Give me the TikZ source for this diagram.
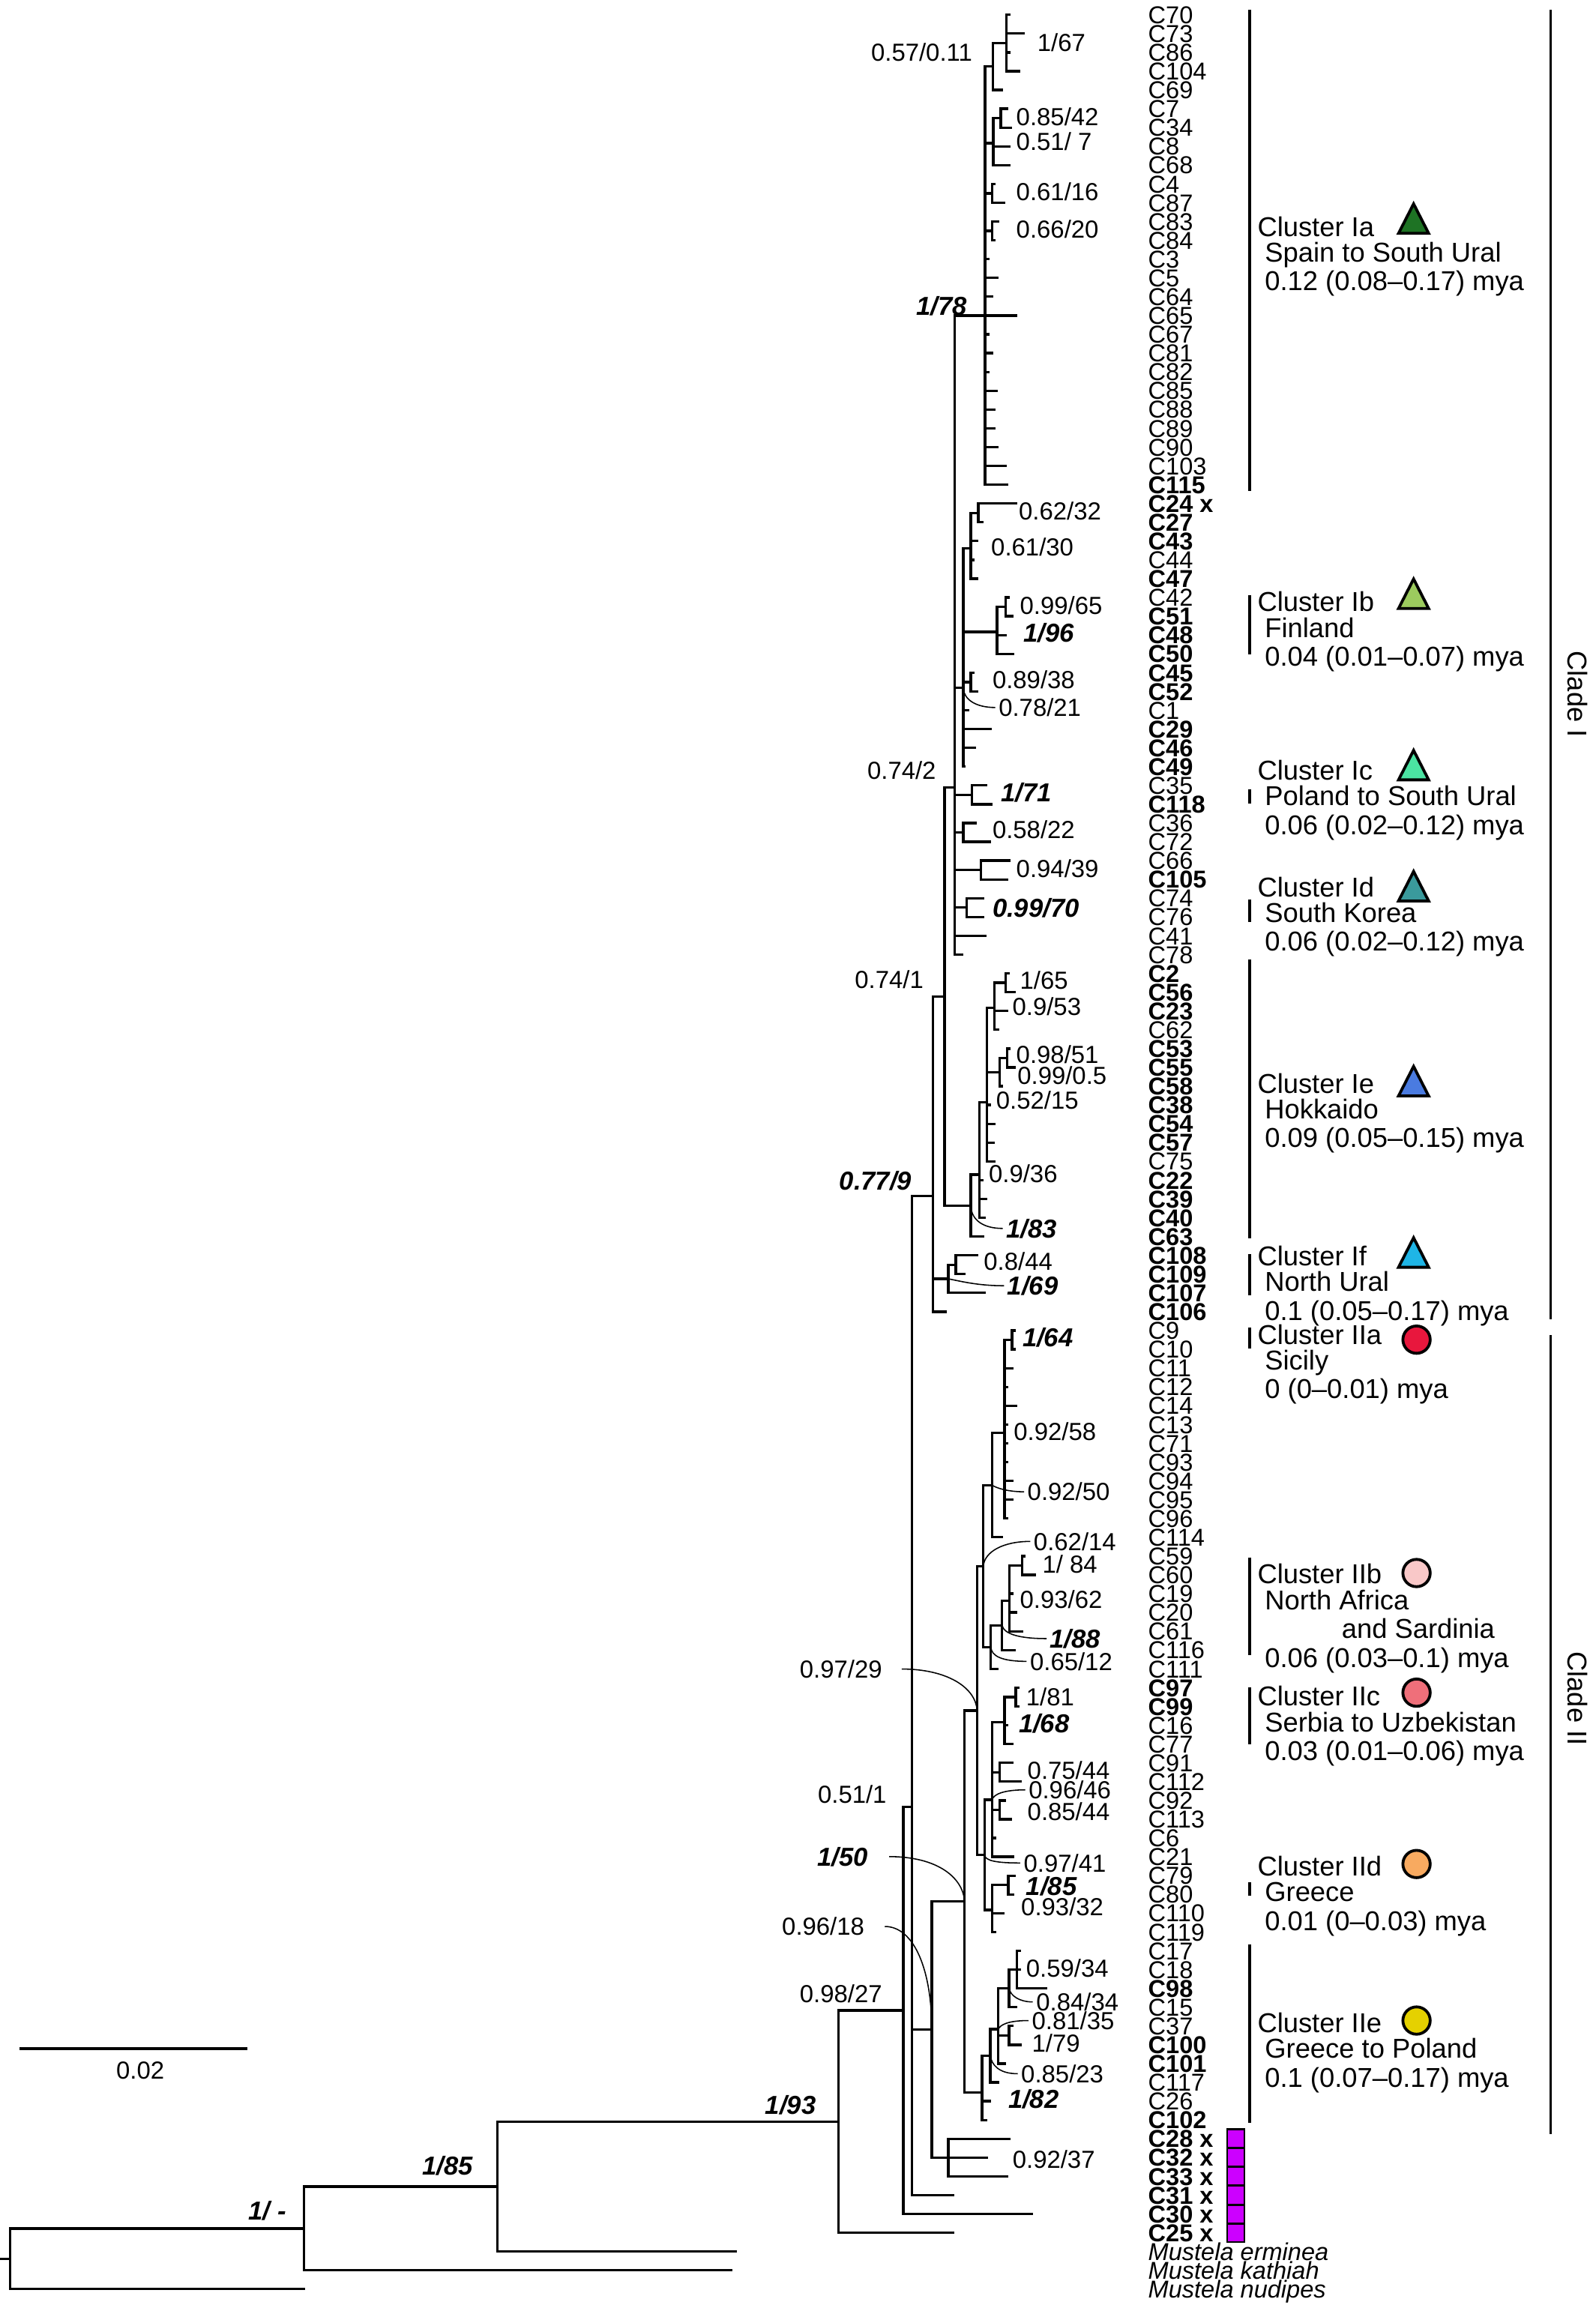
\documentclass[tikz,border=0pt]{standalone}
\usepackage{fontspec}
\setmainfont{Liberation Sans}
\usepackage{tikz}
\definecolor{cIa}{HTML}{1E7324}
\definecolor{cIb}{HTML}{9CCB5E}
\definecolor{cIc}{HTML}{4BE3A2}
\definecolor{cId}{HTML}{3A9A9C}
\definecolor{cIe}{HTML}{4A7BE0}
\definecolor{cIf}{HTML}{1FB5E6}
\definecolor{cIIa}{HTML}{E8173D}
\definecolor{cIIb}{HTML}{F9C8C8}
\definecolor{cIIc}{HTML}{EF6F7A}
\definecolor{cIId}{HTML}{F8AA60}
\definecolor{cIIe}{HTML}{E5D100}
\definecolor{purp}{HTML}{CC00FF}
\newcommand{\tipy}[1]{12.726*(#1)-2.726}
\newcommand{\tipfont}{\fontsize{9.4}{10}\selectfont}
\newcommand{\supfont}{\fontsize{9.5}{10}\selectfont}
\newcommand{\supbfont}{\fontsize{10}{11}\selectfont}
\newcommand{\legfont}{\fontsize{10.5}{12}\selectfont}
\tikzset{
  branch/.style={draw=black, line width=0.95pt, line cap=rect, line join=miter},
  lead/.style={draw=black, line width=0.45pt},
  clbar/.style={draw=black, line width=1pt},
  sym/.style={draw=black, line width=1.1pt, line join=miter},
  sqr/.style={draw=black, fill=purp, line width=0.8pt},
  tiplab/.style={font=\tipfont, anchor=west, inner sep=0pt, text height=6.73pt, text depth=0pt},
  tiplabb/.style={tiplab, font=\tipfont\bfseries},
  tiplabi/.style={tiplab, font=\tipfont\itshape},
  supp/.style={font=\supfont, inner sep=0pt, text height=6.8pt, text depth=0pt},
  suppb/.style={supp, font=\supbfont\bfseries\itshape, text height=7.16pt},
  legtext/.style={font=\legfont, anchor=base west, inner sep=0pt},
}

\begin{document}
\begin{tikzpicture}[x=0.2mm, y=-0.2mm]
  \path[use as bounding box, fill=white] (0,0) rectangle (1080,1560.6);
  % internal nodes: name / x / mean tip index
  \foreach \n/\x/\k in {root/6.7/120.385, nA/205.8/118.77, nB/336.9/116.54, nC/567.6/113.085,
    nD/611.5/107.17, nE/617.5/96.34, nF/631.5/63.83, nH/639.5/53.23, nJ/646.4/42.1,
    nIa/666.9/17, nQ/672.1/3.75, nU/681.4/2.5, nR/672.4/7.833, nV/677.5/6.5, nS/671.6/10.5,
    nT/671.6/12.5, nL/652.1/36.815, nW/657.2/29.375, nZ/662.3/27.5, nX/675.0/33.833,
    nAA/680.9/32.5, nY/657.2/36.5, nM/658.1/42.5, nN/652.1/44.5, nO/664.0/46.5, nP/654.3/48.5,
    nK/657.2/64.36, nAB/663.1/62.71, nAC/668.2/58.85, nAD/673.3/53.83, nAF/680.9/52.5,
    nAE/676.7/57.25, nAG/681.8/56.5, nI/642.0/68.25, nAH/647.1/67.5, nG/630.8/108.19,
    nAJ/642.0/115, nAI/653.0/101.375, nAK/661.5/91.215, nAM/665.7/83.53, nAO/671.6/79.225,
    nAQ/680.1/76.45, nAR/685.1/71.5, nAP/670.8/87.845, nAS/678.4/86.69, nAT/683.4/85.375,
    nAU/691.9/83.5, nAN/666.5/98.9, nAV/671.6/95.97, nAX/680.1/91.83, nBA/687.7/90.5,
    nAY/676.7/94.5, nAZ/676.7/96.5, nAW/671.6/101.83, nBB/682.6/100.5, nAL/664.8/111.53,
    nBC/670.4/109.585, nBD/675.8/108.17, nBE/683.1/106, nBG/688.5/105, nBF/683.1/108.5}
    \coordinate (\n) at (\x,{\tipy{\k}});
  % tip ends
  \foreach \i/\x in {1/683.4, 2/692.7, 3/683.4, 4/689.9, 5/678.0, 6/681.7, 7/684.3, 8/683.4,
    9/683.4, 10/673.3, 11/679.7, 12/675.8, 13/673.3, 14/669.1, 15/675.3, 16/671.6, 17/687.7,
    18/669.1, 19/671.6, 20/669.1, 21/674.5, 22/673.3, 23/673.0, 24/675.0, 25/680.9, 26/681.6,
    27/687.7, 28/664.8, 29/661.5, 30/659.0, 31/661.5, 32/682.6, 33/685.1, 34/680.9, 35/686.0,
    36/658.9, 37/661.5, 38/655.5, 39/670.8, 40/659.8, 41/653.0, 42/667.4, 43/671.3, 44/660.6,
    45/669.9, 46/683.4, 47/681.8, 48/665.7, 49/665.7, 50/666.9, 51/651.3, 52/682.6, 53/686.8,
    54/681.8, 55/675.8, 56/683.4, 57/686.8, 58/678.4, 59/669.9, 60/673.3, 61/672.4, 62/673.3,
    63/664.8, 64/667.7, 65/666.5, 66/665.7, 67/661.5, 68/652.7, 69/666.5, 70/640.3, 71/686.8,
    72/686.8, 73/685.1, 74/681.8, 75/687.7, 76/681.8, 77/681.8, 78/681.8, 79/685.1, 80/685.1,
    81/681.8, 82/678.4, 83/693.6, 84/700.4, 85/685.1, 86/687.7, 87/691.9, 88/686.8, 89/675.0,
    90/689.4, 91/689.4, 92/681.8, 93/685.1, 94/685.1, 95/691.0, 96/680.0, 97/684.3, 98/673.5,
    99/686.0, 100/686.8, 101/686.0, 102/679.0, 103/673.5, 104/690.2, 105/690.2, 106/708.0,
    107/687.7, 108/685.1, 109/691.0, 110/680.0, 111/675.8, 112/670.0, 113/667.4, 114/683.4,
    115/668.2, 116/681.8, 117/645.0, 118/698.3, 119/645.4, 120/498.0, 121/495.0, 122/205.8}
    \coordinate (e\i) at (\x,{\tipy{\i}});
  \coordinate (rootin) at (0,{\tipy{120.385}});

  % branches
  \draw[branch] (rootin) -- (root);
  \foreach \p/\c in {root/nA, root/e122, nA/nB, nA/e121, nB/nC, nB/e120, nC/nD, nC/e119,
    nD/nE, nD/e118, nE/nF, nE/nG, nE/e117, nF/nH, nF/nI, nF/e70, nH/nJ, nH/nK,
    nJ/nIa, nJ/nL, nJ/nM, nJ/nN, nJ/nO, nJ/nP, nJ/e50, nJ/e51,
    nIa/nQ, nIa/nR, nIa/nS, nIa/nT, nQ/nU, nQ/e5, nR/nV, nR/e8, nR/e9, nV/e6, nV/e7,
    nS/e10, nS/e11, nT/e12, nT/e13,
    nL/nW, nL/nX, nL/nY, nL/e38, nL/e39, nL/e40, nL/e41, nW/nZ, nW/e29, nW/e30, nW/e31,
    nZ/e27, nZ/e28, nX/nAA, nX/e34, nX/e35, nAA/e32, nAA/e33, nY/e36, nY/e37,
    nM/e42, nM/e43, nN/e44, nN/e45, nO/e46, nO/e47, nP/e48, nP/e49,
    nK/nAB, nK/e66, nAB/nAC, nAB/e63, nAB/e64, nAB/e65,
    nAC/nAD, nAC/nAE, nAC/e59, nAC/e60, nAC/e61, nAC/e62, nAD/nAF, nAD/e54, nAD/e55,
    nAF/e52, nAF/e53, nAE/nAG, nAE/e58, nAG/e56, nAG/e57,
    nI/nAH, nI/e69, nAH/e67, nAH/e68,
    nG/nAI, nG/nAJ, nAI/nAK, nAI/nAL, nAK/nAM, nAK/nAN, nAM/nAO, nAM/nAP,
    nAO/nAQ, nAO/e82, nAQ/nAR, nAR/e71, nAR/e72, nAP/nAS, nAP/e89, nAS/nAT, nAS/e88,
    nAT/nAU, nAT/e85, nAT/e86, nAT/e87, nAU/e83, nAU/e84,
    nAN/nAV, nAN/nAW, nAV/nAX, nAV/nAY, nAV/nAZ, nAV/e98, nAV/e99,
    nAX/nBA, nAX/e92, nAX/e93, nBA/e90, nBA/e91, nAY/e94, nAY/e95, nAZ/e96, nAZ/e97,
    nAW/nBB, nAW/e102, nAW/e103, nBB/e100, nBB/e101,
    nAL/nBC, nAL/e112, nAL/e113, nBC/nBD, nBC/e111, nBD/nBE, nBD/nBF, nBD/e110,
    nBE/nBG, nBE/e107, nBG/e104, nBG/e105, nBG/e106, nBF/e108, nBF/e109}
    \draw[branch] (\p) |- (\c);
  \foreach \i in {1,...,4} \draw[branch] (nU) |- (e\i);
  \foreach \i in {14,...,26} \draw[branch] (nIa) |- (e\i);
  \foreach \i in {73,...,81} \draw[branch] (nAQ) |- (e\i);
  \foreach \i in {114,...,116} \draw[branch] (nAJ) |- (e\i);

  % tip labels
  \foreach \i/\t in {1/C70, 2/C73, 3/C86, 4/C104, 5/C69, 6/C7, 7/C34, 8/C8, 9/C68, 10/C4,
    11/C87, 12/C83, 13/C84, 14/C3, 15/C5, 16/C64, 17/C65, 18/C67, 19/C81, 20/C82, 21/C85,
    22/C88, 23/C89, 24/C90, 25/C103, 30/C44, 32/C42, 38/C1, 42/C35, 44/C36, 45/C72, 46/C66,
    48/C74, 49/C76, 50/C41, 51/C78, 55/C62, 62/C75, 71/C9, 72/C10, 73/C11, 74/C12, 75/C14,
    76/C13, 77/C71, 78/C93, 79/C94, 80/C95, 81/C96, 82/C114, 83/C59, 84/C60, 85/C19, 86/C20,
    87/C61, 88/C116, 89/C111, 92/C16, 93/C77, 94/C91, 95/C112, 96/C92, 97/C113, 98/C6,
    99/C21, 100/C79, 101/C80, 102/C110, 103/C119, 104/C17, 105/C18, 107/C15, 108/C37,
    111/C117, 112/C26}
    \node[tiplab] (t\i) at (777,{\tipy{\i}}) {\t};
  \foreach \i/\t in {26/C115, 27/C24 x, 28/C27, 29/C43, 31/C47, 33/C51, 34/C48, 35/C50,
    36/C45, 37/C52, 39/C29, 40/C46, 41/C49, 43/C118, 47/C105, 52/C2, 53/C56, 54/C23, 56/C53,
    57/C55, 58/C58, 59/C38, 60/C54, 61/C57, 63/C22, 64/C39, 65/C40, 66/C63, 67/C108,
    68/C109, 69/C107, 70/C106, 90/C97, 91/C99, 106/C98, 109/C100, 110/C101, 113/C102,
    114/C28 x, 115/C32 x, 116/C33 x, 117/C31 x, 118/C30 x, 119/C25 x}
    \node[tiplabb] (t\i) at (777,{\tipy{\i}}) {\t};
  \foreach \i/\t in {120/Mustela erminea, 121/Mustela kathiah, 122/Mustela nudipes}
    \node[tiplabi] (t\i) at (777,{\tipy{\i}}) {\t};
  \foreach \i in {114,...,119}
    \filldraw[sqr] (830.8,{\tipy{\i}-6.3}) rectangle (842.5,{\tipy{\i}+6.3});

  % support values
  \foreach \n/\x/\y/\a/\b/\an in {nQ/658.5/35.2/0.57/0.11/east, nU/702/28.6/1/67/west,
    nV/687.7/79.2/0.85/42/west, nR/687.7/95.7/0.51/\ 7/west, nS/687.7/129.8/0.61/16/west,
    nT/687.7/155.1/0.66/20/west, nZ/689.4/346/0.62/32/west, nW/670.7/370.3/0.61/30/west,
    nAA/690.2/410/0.99/65/west, nY/671.6/460.3/0.89/38/west, nL/675.8/479/0.78/21/west,
    nJ/634/521.5/0.74/2/east, nN/671.6/561.7/0.58/22/west, nO/687.7/588.3/0.94/39/west,
    nAF/690.2/663.5/1/65/west, nH/625.5/663.1/0.74/1/east, nAD/685.1/681.3/0.9/53/west,
    nAG/687.7/713.9/0.98/51/west, nAE/688.5/728.2/0.99/0.5/west, nAC/674.1/744.9/0.52/15/west,
    nAB/669.1/794.6/0.9/36/west, nAH/665.7/854/0.8/44/west, nAQ/686/969.3/0.92/58/west,
    nAO/695.3/1010/0.92/50/west, nAM/699.5/1043.6/0.62/14/west, nAU/705.4/1058.8/1/\ 84/west,
    nAT/690.2/1083/0.93/62/west, nAP/697/1124.8/0.65/12/west, nAK/597.5/1130/0.97/29/east,
    nBA/694.4/1149/1/81/west, nAY/695.3/1198.8/0.75/44/west, nAV/696.1/1211.8/0.96/46/west,
    nE/600.5/1214.6/0.51/1/east, nAZ/695.3/1226.3/0.85/44/west, nAN/692.7/1261.3/0.97/41/west,
    nAW/691/1291/0.93/32/west, nG/585.5/1304.3/0.96/18/east, nBG/694.4/1332.8/0.59/34/west,
    nD/597.5/1350/0.98/27/east, nBE/701.2/1355.4/0.84/34/west, nBD/698.3/1368/0.81/35/west,
    nBF/698.3/1383.5/1/79/west, nBC/691/1404/0.85/23/west, nAJ/685.2/1462/0.92/37/west}
    \node[supp, anchor=\an] (l\n) at (\x,\y) {\a/\b};
  \foreach \n/\x/\y/\a/\b/\an in {nIa/655/207/1/78/east, nX/692.7/428.3/1/96/west,
    nM/677.5/536.4/1/71/west, nP/671.6/614.7/0.99/70/west, nF/617.5/799.5/0.77/9/east,
    nK/680.9/831.7/1/83/west, nI/681.7/870.5/1/69/west, nAR/691.9/905.6/1/64/west,
    nAS/710.5/1109.4/1/88/west, nAX/689.4/1166.6/1/68/west, nAI/588/1257/1/50/east,
    nBB/694.4/1276.7/1/85/west, nAL/682.3/1421/1/82/west, nC/552.7/1425/1/93/east,
    nB/320.5/1466/1/85/east, nA/194/1496.5/1/\ -/east}
    \node[suppb, anchor=\an] (l\n) at (\x,\y) {\a/\b};

  % leader curves from values to their nodes
  \draw[lead] ([xshift=-0.4mm]lnL.west) .. controls +(-13,0) and +(0.5,8) .. (nL);
  \draw[lead] ([xshift=-0.4mm]lnK.west) .. controls +(-13,0) and +(0.5,10) .. (nK);
  \draw[lead] ([xshift=-0.4mm]lnI.west) .. controls +(-18,0) and +(8,1.5) .. (nI);
  \draw[lead] ([xshift=-0.4mm]lnAO.west) .. controls +(-11,0) and +(3,2) .. (nAO);
  \draw[lead] ([xshift=-0.4mm]lnAM.west) .. controls +(-18,0) and +(1,-10) .. (nAM);
  \draw[lead] ([xshift=-0.4mm]lnAS.west) .. controls +(-18,0) and +(1.5,6) .. (nAS);
  \draw[lead] ([xshift=-0.4mm]lnAP.west) .. controls +(-17,0) and +(0.5,6) .. (nAP);
  \draw[lead] ([xshift=2.6mm]lnAK.east) .. controls +(30,0) and +(-1,-16) .. (nAK);
  \draw[lead] ([xshift=-0.4mm]lnAV.west) .. controls +(-14,0) and +(1,-4) .. (nAV);
  \draw[lead] ([xshift=-0.4mm]lnAN.west) .. controls +(-16,0) and +(0.5,4) .. (nAN);
  \draw[lead] ([xshift=2.8mm]lnAI.east) .. controls +(33,0) and +(-1,-16) .. (nAI);
  \draw[lead] ([xshift=2.7mm]lnG.east) .. controls +(20,0) and +(0,-40) .. (nG);
  \draw[lead] ([xshift=-0.4mm]lnBE.west) .. controls +(-9,0) and +(1,5) .. (nBE);
  \draw[lead] ([xshift=-0.4mm]lnBD.west) .. controls +(-14,0) and +(1.5,-3) .. (nBD);
  \draw[lead] ([xshift=-0.4mm]lnBC.west) .. controls +(-13,0) and +(1,6) .. (nBC);

  % scale bar
  \coordinate (sb1) at (13,1387.2);
  \coordinate (sb2) at (167.5,1387.2);
  \draw[branch, line width=1.2pt, line cap=butt] (sb1) -- (sb2);
  \node[supp] (sblab) at (95,1401.6) {0.02};

  % clusters and clades
  \foreach \a/\b in {6.6/332.3, 403.2/442.8, 534.2/544, 609/624.4, 649.7/838.2, 849.3/876.8,
    898.8/913.1, 1054.4/1120.4, 1142.4/1181, 1274.5/1283.3, 1316.3/1437.4}
    \draw[clbar] (845.9,\a) -- (845.9,\b);
  \draw[clbar] (1049.7,6.6) -- (1049.7,893);
  \draw[clbar] (1049.7,904) -- (1049.7,1445);
  \node[font=\legfont, rotate=-90, inner sep=0pt] (cladeI) at (1068,470) {Clade I};
  \node[font=\legfont, rotate=-90, inner sep=0pt] (cladeII) at (1068,1150) {Clade II};

  \foreach \c/\yb/\r/\a in {Ia/159.9/Spain to South Ural/0.12 (0.08--0.17),
    Ib/414/Finland/0.04 (0.01--0.07), Ic/528/Poland to South Ural/0.06 (0.02--0.12),
    Id/607/South Korea/0.06 (0.02--0.12), Ie/740/Hokkaido/0.09 (0.05--0.15),
    If/857/North Ural/0.1 (0.05--0.17), IIa/910/Sicily/0 (0--0.01),
    IIc/1155/Serbia to Uzbekistan/0.03 (0.01--0.06), IId/1270/Greece/0.01 (0--0.03),
    IIe/1376/Greece to Poland/0.1 (0.07--0.17)} {
    \node[legtext] (cl\c) at (851,\yb) {Cluster \c};
    \node[legtext] (rg\c) at (856,\yb+17.4) {\r};
    \node[legtext] (ag\c) at (856,\yb+36.9) {\a\ mya};
  }
  \node[legtext] (clIIb) at (851,1072) {Cluster IIb};
  \node[legtext] (rgIIb) at (856,1090) {North Africa};
  \node[legtext] (rgIIbs) at (908,1109) {and Sardinia};
  \node[legtext] (agIIb) at (856,1129) {0.06 (0.03--0.1) mya};

  \foreach \c/\yc in {Ia/148, Ib/402, Ic/518, Id/600, Ie/732, If/848}
    \filldraw[sym, fill=c\c] (957,\yc-10) -- (967.2,\yc+10) -- (946.8,\yc+10) -- cycle;
  \foreach \c/\yc in {IIa/907, IIb/1065, IIc/1146, IId/1262, IIe/1368}
    \filldraw[sym, fill=c\c] (959,\yc) circle[radius=1.85mm];
\end{tikzpicture}
\end{document}
